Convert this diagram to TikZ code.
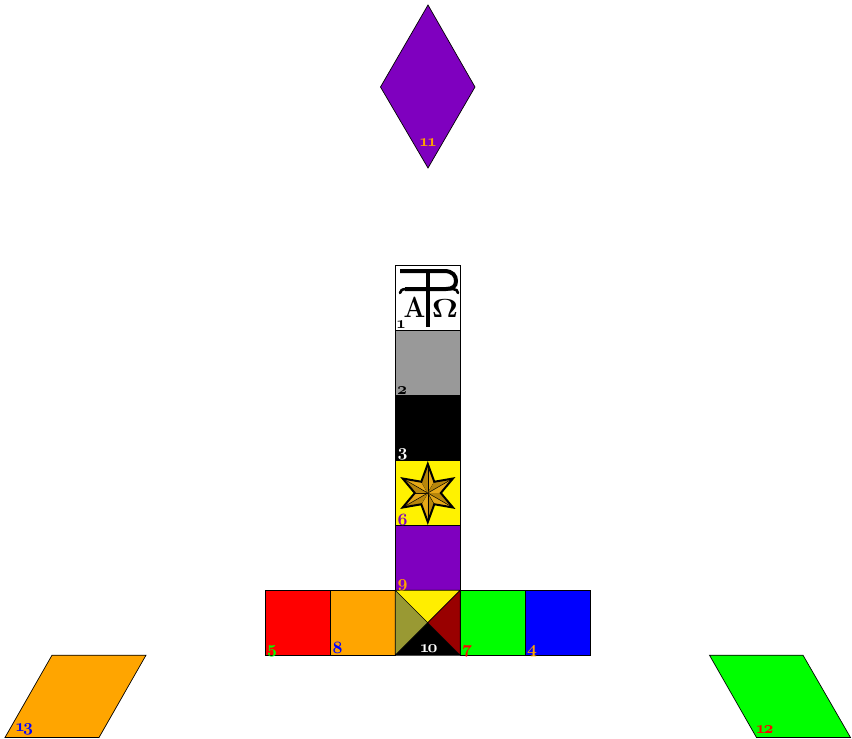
\documentclass[tikz,border=0pt]{standalone}
\usepackage{graphicx}
\definecolor{pur}{HTML}{7F00BF}
\definecolor{org}{HTML}{FFA500}
\definecolor{grn}{HTML}{00FF00}
\definecolor{gry}{HTML}{999999}
\definecolor{oli}{HTML}{999933}
\definecolor{dred}{HTML}{990000}
\definecolor{yel2}{HTML}{FFEE00}
\definecolor{goldA}{HTML}{E6A817}
\definecolor{goldB}{HTML}{B8860B}
\newcommand{\onum}[1]{{\fontencoding{OML}\fontfamily{cmm}\fontseries{b}\fontshape{it}\selectfont #1}}
\begin{document}
\begin{tikzpicture}[x=1pt,y=-1pt,line join=miter,
  cell/.style={draw=black,line width=0.7pt,minimum size=65pt,inner sep=0pt,outer sep=0pt,anchor=north west},
  num/.style={font=\fontsize{17}{17}\selectfont,inner sep=0pt,outer sep=0pt,anchor=base},
  shp/.style={draw=black,line width=0.7pt}]
\useasboundingbox (0,0) rectangle (852,739);
% column
\node[cell,fill=white] (c1) at (395.2,265.2) {};
\node[cell,fill=gry] (c2) at (395.2,330.4) {};
\node[cell,fill=black] (c3) at (395.2,395.4) {};
\node[cell,fill=yellow] (c6) at (395.2,460.4) {};
\node[cell,fill=pur] (c9) at (395.2,525.4) {};
% row
\node[cell,fill=red] (c5) at (265.2,590.2) {};
\node[cell,fill=org] (c8) at (330.2,590.2) {};
\node[cell,fill=grn] (c7) at (460.2,590.2) {};
\node[cell,fill=blue] (c4) at (525.2,590.2) {};
% cell 10
\coordinate (nw) at (395.2,590.2);
\coordinate (ne) at (460.2,590.2);
\coordinate (se) at (460.2,655.2);
\coordinate (sw) at (395.2,655.2);
\coordinate (m) at (427.7,622.7);
\fill[yel2] (nw)--(ne)--(m)--cycle;
\fill[dred] (ne)--(se)--(m)--cycle;
\fill[black] (se)--(sw)--(m)--cycle;
\fill[oli] (sw)--(nw)--(m)--cycle;
\draw[shp] (nw)--(ne)--(se)--(sw)--cycle (nw)--(se) (ne)--(sw);
% far shapes
\draw[shp,fill=pur] (428,5)--(475,87)--(428,168)--(380.5,87)--cycle;
\draw[shp,fill=org] (52,655.2)--(146,655.2)--(99,737.5)--(5,737.5)--cycle;
\draw[shp,fill=grn] (709.5,655.2)--(803,655.2)--(850.5,737.5)--(756.5,737.5)--cycle;
% star
\begin{scope}[shift={(427.8,493)}]
  \foreach \a in {90,150,210,270,330,30}{
    \fill[goldA] (0,0)--(\a:29)--(\a+30:13)--cycle;
    \fill[goldB] (0,0)--(\a:29)--(\a-30:13)--cycle;
    \draw[line width=0.5pt] (0,0)--(\a:29);
    \draw[line width=0.4pt] (0,0)--(\a+30:13);
  }
  \draw[line width=2pt] (90:29)--(60:13)--(30:29)--(0:13)--(-30:29)--(-60:13)--(-90:29)--(-120:13)--(-150:29)--(180:13)--(150:29)--(120:13)--cycle;
\end{scope}
% chi-rho, alpha, omega
\node[inner sep=0pt,anchor=base,font=\fontsize{27}{27}\selectfont\bfseries] (alpha) at (414.5,317.5) {\scalebox{0.95}[1.08]{A}};
\node[inner sep=0pt,anchor=base,font=\fontsize{27}{27}\selectfont] (omega) at (445,317.5) {\scalebox{1.3}[1.05]{$\mathbf{\Omega}$}};
\draw[line width=4pt] (428,270) -- (428,327);
\draw[line width=4pt,line cap=butt] (400,271) -- (444,271) .. controls (453,271) and (456,276) .. (456,281) .. controls (456,286) and (453,289) .. (446,289) -- (405,289);
\draw[line width=2.6pt,line cap=round] (406,289) .. controls (402,289) and (400,291) .. (400,293);
\draw[line width=2.6pt,line cap=round] (448,289) -- (453,289) .. controls (456,289) and (458,291) .. (458,293);
% labels
\node[num,text=black] (n1) at (401,328) {\onum{1}};
\node[num,text=black] (n2) at (402,394) {\onum{2}};
\node[num,text=white] (n3) at (402.5,456) {\onum{3}};
\node[num,text=pur] (n6) at (402.5,525) {\onum{6}};
\node[num,text=org] (n9) at (402.5,587) {\onum{9}};
\node[num,text=grn] (n5) at (272,653) {\onum{5}};
\node[num,text=blue] (n8) at (337.5,653) {\onum{8}};
\node[num,text=red] (n7) at (467,653) {\onum{7}};
\node[num,text=org] (n4) at (532,653) {\onum{4}};
\node[num,text=white] (n10) at (428.5,652.5) {\onum{1\kern-2pt 0}};
\node[num,text=org] (n11) at (428,146) {\onum{1\kern-2pt 1}};
\node[num,text=red] (n12) at (764.5,733) {\onum{1\kern-2pt 2}};
\node[num,text=blue] (n13) at (24,731) {\onum{1\kern-2pt 3}};
\end{tikzpicture}
\end{document}
